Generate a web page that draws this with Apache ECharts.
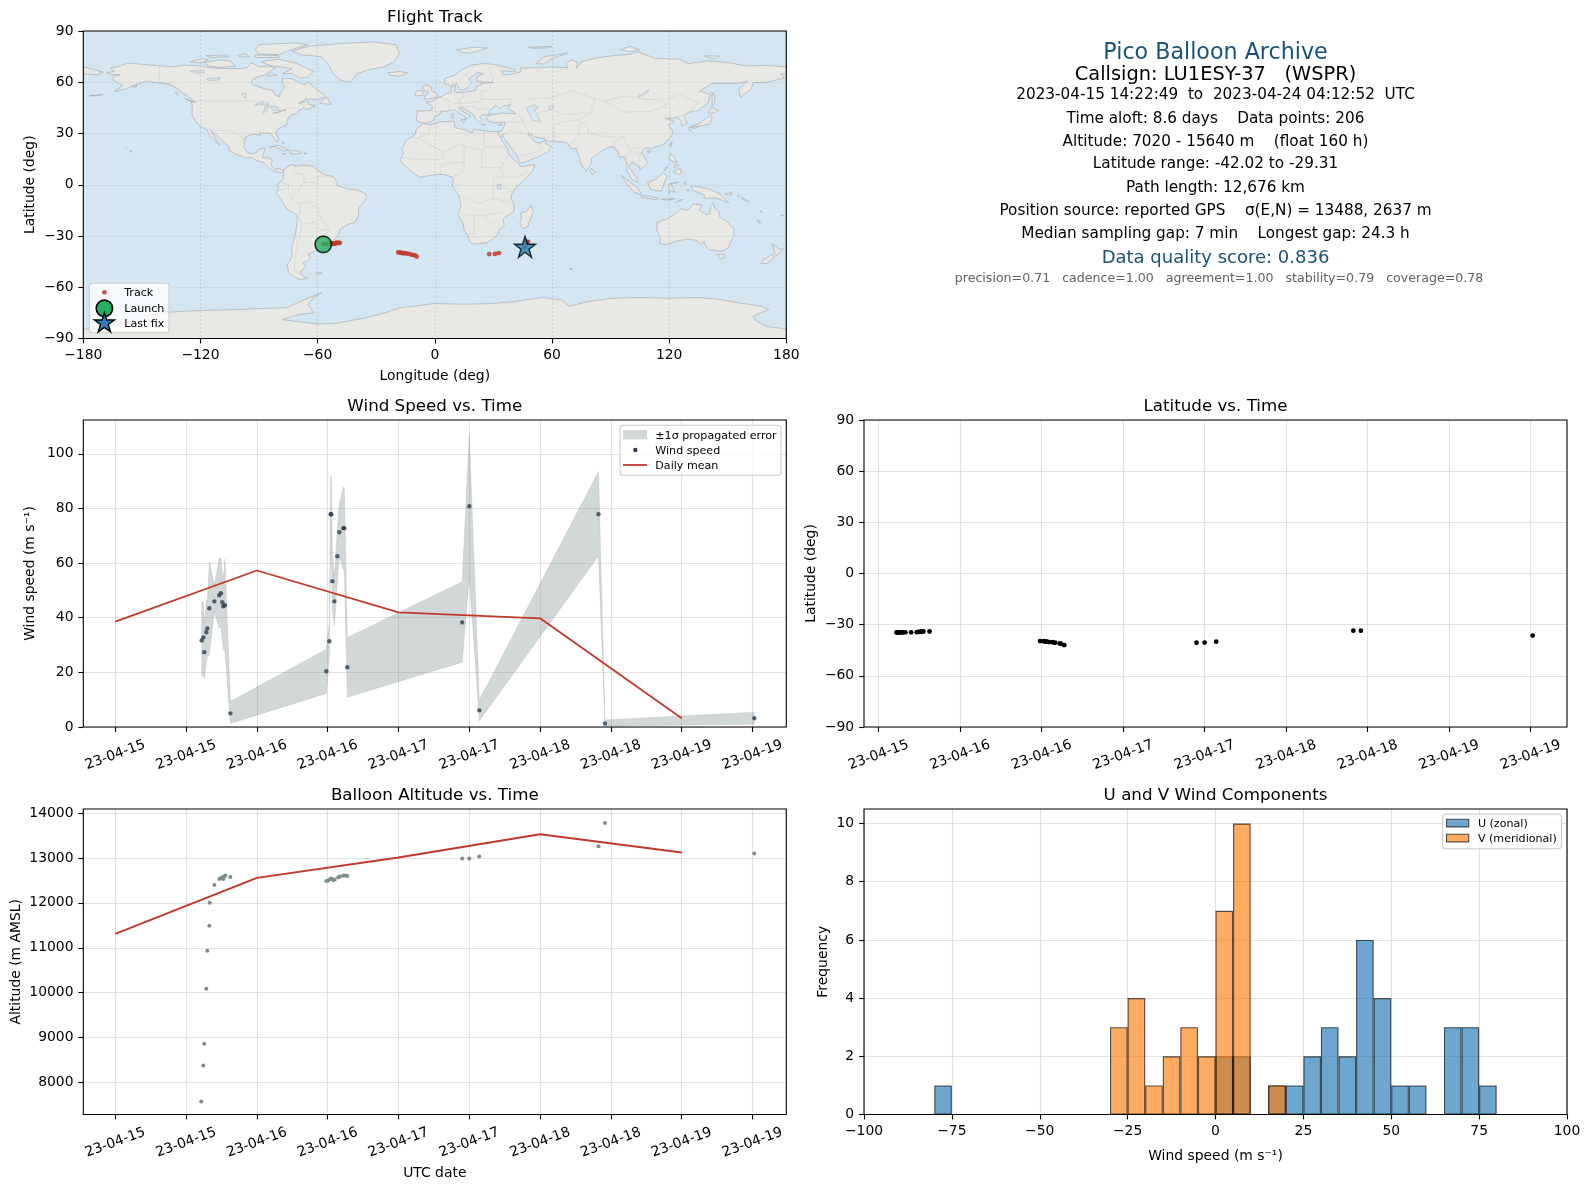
<!DOCTYPE html>
<html>
<head>
<meta charset="utf-8">
<title>Pico Balloon Archive</title>
<script src="https://cdn.jsdelivr.net/npm/echarts@6/dist/echarts.min.js"></script>
<style>html,body{margin:0;padding:0;background:#fff}#chart{width:1590px;height:1189px}</style>
</head>
<body>
<div id="chart"></div>
<script>
// ---------- data ----------
const fixHours = [14.64,14.92,15.09,15.43,15.60,15.94,16.79,17.63,17.91,18.14,18.31,18.59,19.5,
  35.77,36.28,36.50,36.62,36.79,37.13,37.64,37.97,38.65,38.82,39.33,
  58.8,60.0,61.7,81.9,83.0,108.3];
const windSpeed = [31.7,32.8,27.4,34.7,36.1,43.5,46.0,48.2,49.0,45.7,44.2,44.6,5.0,
  20.4,31.4,77.9,77.9,53.4,46.0,62.5,71.3,72.8,72.8,21.9,
  38.3,80.8,6.1,77.9,1.3,3.2];
const windUpper = [45.5,45.9,38.0,46.5,46.5,60.6,52.0,61.8,61.8,55.7,55.1,61.5,9.3,
  28.5,38.0,91.7,91.7,64.8,55.1,72.2,81.9,87.8,87.8,32.8,
  53.2,107.3,9.9,93.5,2.6,5.4];
const windLower = [18.4,19.7,17.5,23.3,25.8,26.4,42.2,36.1,36.8,31.9,28.2,27.6,1.3,
  12.3,25.2,64.2,64.2,42.9,37.0,53.8,62.4,57.8,57.8,10.9,
  23.7,55.1,2.3,62.6,0.4,1.0];
const latitude = [-34.6,-34.6,-34.6,-34.6,-34.5,-34.5,-34.5,-34.4,-34.2,-34.1,-34.1,-34.0,-34.0,
  -39.6,-39.7,-39.9,-40.0,-40.0,-40.2,-40.3,-40.6,-41.0,-41.2,-42.0,
  -40.6,-40.5,-40.0,-33.5,-33.5,-36.4];
const longitude = [-57.1,-56,-55,-54,-52.5,-52,-51.6,-51.2,-50.8,-50.4,-50,-49.4,-48.6,
  -18.7,-17.8,-17,-16.5,-16,-15,-14,-12.8,-11.6,-10.4,-9.3,
  27.9,30.8,32.8,47,47.7,46.2];
const altitudeHours = [14.58,14.92,15.09,15.43,15.60,15.94,16.0,16.79,17.63,17.91,18.14,18.31,18.5,18.65,19.5,
  35.77,36.1,36.45,36.6,36.95,37.2,37.8,38.1,38.65,39.0,39.33,
  58.8,60.0,61.7,81.9,83.0,108.3];
const altitude = [7578,8378,8867,10089,10933,11489,12000,12400,12533,12556,12570,12533,12593,12607,12578,
  12489,12496,12533,12541,12511,12518,12570,12585,12607,12607,12600,
  12990,12990,13034,13259,13776,13100];
const dailyHours = [0,24,48,72,96];
const dailyWind = [38.6,57.3,42.0,39.8,3.2];
const dailyAltitude = [11310,12556,13011,13529,13123];
const launchFix = [-57.1,-34.9];
const lastFix = [46.2,-36.3];
const windTickHours = [0,12,24,36,48,60,72,84,96,108];
const latTickHours = [12,24,36,48,60,72,84,96,108];
const binCenters = [-77.5,-27.5,-22.5,-17.5,-12.5,-7.5,-2.5,2.5,7.5,17.5,22.5,27.5,32.5,37.5,42.5,47.5,52.5,57.5,67.5,72.5,77.5];
const uCounts =    [1,0,0,0,0,0,0,2,2,1,1,2,3,2,6,4,1,1,3,3,1];
const vCounts =    [0,3,4,1,2,3,2,7,10,1,0,0,0,0,0,0,0,0,0,0,0];
const summaryLines = [
  'Pico Balloon Archive',
  'Callsign: LU1ESY-37   (WSPR)',
  '2023-04-15 14:22:49  to  2023-04-24 04:12:52  UTC',
  'Time aloft: 8.6 days    Data points: 206',
  'Altitude: 7020 - 15640 m    (float 160 h)',
  'Latitude range: -42.02 to -29.31',
  'Path length: 12,676 km',
  'Position source: reported GPS    \u03c3(E,N) = 13488, 2637 m',
  'Median sampling gap: 7 min    Longest gap: 24.3 h',
  'Data quality score: 0.836',
  'precision=0.71   cadence=1.00   agreement=1.00   stability=0.79   coverage=0.78'
];

// land outlines, lon/lat
const landPolygons = [
 [[-168,65.5],[-164,66.5],[-166,68.3],[-163,69],[-157,71.2],[-150,70.5],[-141,69.6],[-135,69],[-128,70],[-120,69.5],[-115,68.5],[-108,68],[-100,68],[-96,68.5],[-94,71.5],[-90,69],[-85,69.5],[-81.5,68.5],[-85,66],[-87,64.5],[-92,62.5],[-94.5,60],[-93,58.5],[-88,56.5],[-82.5,55],[-82,52.5],[-79.5,51.5],[-79,54.5],[-77,56.5],[-78,59],[-78,62.4],[-73,62],[-70,60.5],[-67,58.5],[-64.5,60.3],[-61.5,56.5],[-57,53],[-56,51.5],[-60,50],[-66,50.2],[-70,47.5],[-65,49],[-64.5,47],[-61,46],[-66,44],[-67,45],[-70,43.5],[-70,41.7],[-74,40.6],[-75.5,38],[-76,35],[-78.5,33.8],[-81,32],[-81.3,30],[-80,26.8],[-80.5,25.2],[-81.8,26],[-82.8,28],[-84,30],[-86,30.3],[-89.5,30.2],[-89.5,29],[-91.5,29.5],[-94,29.5],[-97,28],[-97.5,25],[-97.8,22],[-95.8,18.8],[-94,18.2],[-91.5,18.6],[-90.5,20.5],[-87,21.5],[-87.5,19],[-88.5,16],[-86,15.9],[-83.3,15],[-83.7,11],[-82,9],[-79.8,9.5],[-77.5,8.5],[-78,7.3],[-80,7.3],[-83,8.2],[-85.5,10],[-87.5,13],[-91,14],[-94,16],[-97,15.8],[-102,18],[-105.5,20],[-105.5,22.5],[-109,26],[-112.5,29.5],[-114.7,31.7],[-112,26.5],[-110,23],[-112,25],[-115,28.5],[-117,32.5],[-120.5,34.5],[-122.5,37.5],[-124.3,40.3],[-124.2,46],[-124.7,48.4],[-122.5,48.5],[-125,50.5],[-130,54.5],[-133.5,57.5],[-138,59.2],[-144,60],[-148,60.5],[-152,59],[-154,58],[-158,56.2],[-164,54.6],[-160,58],[-162,59.5],[-165,61.5],[-164.5,63.2],[-161,64.5],[-165,64.5]],
 [[-73,78.2],[-65,81],[-50,82.5],[-32,83.6],[-20,82],[-18,77],[-21,72],[-26,69],[-33,67.5],[-40,65],[-43,60],[-48,61],[-52,65],[-54,69.5],[-58,75],[-68,76]],
 [[-80,73.5],[-72,71.5],[-67,69],[-62,66.5],[-65,63],[-69,62.5],[-73,65],[-78,65],[-73,68],[-85,70],[-89,72]],
 [[-118,71.5],[-110,73],[-105,72.5],[-102,69.5],[-110,68.7],[-116,69.5]],
 [[-90,76.5],[-80,76.2],[-76,78],[-65,82],[-72,83],[-90,82],[-92,79]],
 [[-125,72],[-119,74],[-116,73],[-120,71.3]],
 [[-92,76],[-80,75.6],[-80,74.5],[-92,74.5]],
 [[-117,75.5],[-106,76],[-106,75],[-115,74.5]],
 [[-101,75.8],[-97,76.5],[-95,75],[-100,74.8]],
 [[-84,65.5],[-81,64],[-86,63.5]],
 [[-59,47.7],[-55.5,51.5],[-53,47]],
 [[-128,50.5],[-123.5,48.5],[-125,48.8]],
 [[-133,54],[-131.7,53.8],[-131.5,52.3]],
 [[-177,52],[-173,52.2],[-170,52.8],[-173,52.5]],
 [[-155,57.7],[-152.5,58.3],[-153,57]],
 [[-85,22],[-80,23],[-75,20.5],[-74.2,20.2],[-77.5,19.9],[-82,22.5]],
 [[-74.5,18.5],[-73,20],[-69,19.7],[-68.4,18.6],[-71.5,17.8]],
 [[-78.3,18.3],[-76.3,18.2],[-77,17.8]],
 [[-67,18.5],[-65.7,18.4],[-66.5,18]],
 [[-78,24.8],[-77.2,25.2],[-77.5,24]],
 [[-156,20],[-155,19.7],[-155.7,19]],
 [[-158.2,21.6],[-157.7,21.4],[-158,21.2]],
 [[-77.5,8.5],[-75,11],[-72,12],[-71.5,10.8],[-68,11.5],[-62,10.7],[-60,8.5],[-57,6],[-52,4.8],[-50,1],[-50,-0.5],[-44.5,-2.5],[-40,-3],[-35.5,-5.2],[-34.8,-7.5],[-37,-11],[-39,-14],[-39,-18],[-41,-22],[-44.5,-23.2],[-48.5,-26],[-49,-29],[-52,-32.5],[-54,-34.5],[-58,-34.5],[-57,-36.5],[-58,-38.2],[-62,-39],[-65,-41],[-63.5,-42.5],[-65.5,-45],[-67.5,-46],[-65.8,-47.5],[-69,-51],[-68.4,-52.5],[-65.2,-54.8],[-69,-55.5],[-72,-54],[-75,-51],[-75.5,-46.5],[-73,-42],[-73.5,-37],[-71.5,-30],[-70.3,-20],[-71,-17.5],[-76,-14],[-79,-8],[-81.3,-5],[-80,-2.5],[-80.5,0.5],[-78.5,2],[-77.3,4],[-77.5,7]],
 [[-61,-51.5],[-58,-51.5],[-58.5,-52.3],[-60.5,-52.2]],
 [[-6,35.8],[-2,35.2],[3,36.8],[10,37.3],[10.2,34],[11.2,33.2],[15,32.3],[19,30.3],[20,32.5],[25,31.7],[29,31],[32.3,31.2],[32.6,29.9],[33.6,27.5],[35.5,24],[37.2,21],[37.5,18.5],[39.5,15.5],[43,12],[44,10.5],[51.2,11.8],[50,8],[47,4],[42,-1],[39.5,-5],[39,-8],[40.5,-11],[40.5,-15.5],[35,-20],[35.5,-24],[33,-26],[32.5,-28.5],[30,-31.5],[27,-33.8],[20,-34.8],[18.3,-34],[17,-30],[15,-26.5],[14.5,-22.5],[11.8,-17.5],[13.5,-12],[12,-5.5],[9,-1],[9.5,3.5],[8.5,4.5],[5,6],[1,6],[-4,5.2],[-7.5,4.4],[-11,6.8],[-13.5,9.5],[-16.7,12.5],[-17.5,14.7],[-16,19],[-17,21],[-14.5,26],[-10,29.5],[-9.5,32.5]],
 [[49.3,-12],[50.5,-15.5],[47.5,-24.8],[45,-25.5],[43.5,-23],[44.3,-20],[44,-16.5],[47,-15.5]],
 [[-9,37],[-9.5,38.8],[-8.8,43.2],[-1.7,43.4],[-1.2,46],[-4.7,48.4],[-1.5,48.7],[1.5,50.9],[4,52],[6,53.5],[8.5,53.8],[8.2,57],[10.6,57.7],[10,54.5],[12,54],[14,54],[18.5,54.7],[21,55.2],[21.3,57.5],[24,58.5],[23.5,59.3],[28,59.6],[30,60],[25,60.2],[21.5,60.7],[21.3,63],[25,65],[22,65.7],[17.5,62],[18.8,60],[16.5,56.5],[14.3,55.5],[13,55.5],[11.2,59],[8,58],[5.2,59],[5,62],[10,64],[14,67.5],[19,70],[25,71],[31,70.3],[41,67.5],[41,66.3],[34,66.7],[35,64.3],[40,64.8],[44,66],[44,68.3],[54,68.5],[60,69],[68,68.5],[67,71.5],[70,73],[73,71.5],[72.5,68],[75,72],[80,73.5],[87,75],[100,76.5],[104,77.7],[113,74],[125,73.5],[130,71],[140,72.5],[150,71.5],[160,69.5],[170,69.9],[180,69],[180,65],[177,64.7],[179,62.5],[170,60],[163,59.8],[162,56],[156.5,51],[155.7,56],[160,60.5],[155,59.3],[142,59.3],[135.5,54.7],[141,53],[140,48],[135,43.5],[130,42.5],[127.5,39.8],[129.4,36],[126.5,34.5],[126,37.5],[124.5,39.8],[121,38.8],[118,39],[122.5,37],[119.5,35],[122,31],[121,28],[117,23.5],[111,21.4],[108,21.5],[105.7,19],[109,13],[107,10.5],[105,8.7],[105,10.5],[100.8,13.5],[99.5,10],[103.5,4],[104,1.4],[101,3],[98.5,8],[98.5,12],[97,16.5],[94.5,16],[94,19],[91.5,22.5],[89,21.8],[86.5,20.5],[80.3,15.5],[80,12],[77.5,8],[75,12],[73,19],[72.5,21.5],[70,21],[69,22.5],[67,25],[61.5,25.2],[57,25.7],[56.5,27],[51,28],[48.5,30],[47.7,29.5],[50,26.5],[51.5,25],[54,24.2],[56.3,26],[56.8,24],[59.8,22.5],[57.8,19],[52,16],[45,12.8],[43.3,13],[42.5,16.5],[39.2,21.5],[36,26.5],[35,28.2],[34.9,29.5],[34.2,27.8],[33,28.8],[32.6,30],[32.3,31.2],[34.3,31.3],[35.8,35],[36,36.7],[30.5,36.3],[27.5,37],[26.3,39.5],[29,41],[35,42],[41.5,41.5],[37.5,44.8],[39,47],[35,46],[33.5,44.5],[31,46.5],[28,43.5],[28,41.2],[24,40.8],[23,40],[24,38],[22.8,36.5],[21,38.5],[19.5,41.5],[15,44.5],[13,45.7],[12.3,44.5],[16,41.8],[18.4,40],[16.8,39],[15.7,38.2],[15.8,40],[12,42],[10,44],[6,43],[3.3,43.2],[3,41.8],[0,39.8],[-0.5,38],[-2,36.8],[-5.5,36]],
 [[-180,69],[-175,67.5],[-170,66],[-173,64.3],[-180,65]],
 [[-5.5,50],[1.5,51.2],[1.5,52.8],[-1.5,55],[-2,57.5],[-5,58.6],[-6.5,56.5],[-3,54],[-5,52]],
 [[-10,52],[-6,52.2],[-6,54.7],[-8.5,55.2],[-10,54]],
 [[-24,65.5],[-18,66.3],[-14,65.5],[-18,63.5],[-22.5,64]],
 [[11,79],[20,80.5],[27,80],[18,77],[14,77.5]],
 [[52,71],[56,75],[68,77],[60,74],[56,70.7]],
 [[48,80.5],[60,81],[58,80.2],[50,79.8]],
 [[95,79],[100,81],[105,79],[100,77.8]],
 [[138,75.5],[146,75.3],[143,73.5]],
 [[13,38],[15.6,38.2],[15,36.7]],
 [[8.3,41],[9.7,41],[9.5,39],[8.5,39]],
 [[23.6,35.5],[26.2,35.2],[24.5,34.9]],
 [[32.5,35],[34.5,35.6],[33.8,34.7]],
 [[80,9.7],[82,7.5],[80.5,6],[79.8,8]],
 [[130.9,34],[135,35.6],[137,37.3],[140,39.7],[141.3,41],[142,39.5],[140.8,35.7],[137,34.6],[133,33.8]],
 [[130,33.5],[131.7,33.5],[131,31.2],[130,32]],
 [[132.5,33.9],[134.5,34.2],[134,33.3],[132.7,32.9]],
 [[140,42],[141.8,45.4],[145.3,43.5],[143,42]],
 [[142,46],[142,54],[143.5,52],[143,47]],
 [[120.2,23],[121.5,25.2],[121,22]],
 [[108.7,19.3],[110.5,20],[110,18.4]],
 [[120,16],[121,18.5],[122.2,17],[124,13],[120.8,14]],
 [[122,7.5],[125.5,9.7],[126.5,7],[125,6]],
 [[122.5,11.8],[125,11.5],[123,9.5]],
 [[117.2,8.4],[119.5,11.2],[118,8.8]],
 [[95.3,5.6],[104,-2],[106,-5.8],[102,-4.5],[98,1]],
 [[105.5,-6.5],[110,-6.7],[114.5,-7.7],[114,-8.7],[106,-7.5]],
 [[109,1.5],[113,3],[117,7],[119,5],[117.5,1],[116,-3.8],[111,-3],[109.5,-0.5]],
 [[119.8,-5.5],[120,0.5],[125,1.5],[121,0.5],[122.8,-4.5],[120.8,-3]],
 [[131,-0.8],[134.5,-1],[138,-2],[141,-2.7],[146,-5.5],[150.5,-10.5],[144,-7.7],[138,-8],[138,-6],[132.5,-3.5]],
 [[124,-10],[127,-8.4],[123.5,-10.2]],
 [[116,-8.4],[123,-8.2],[119,-9]],
 [[148.5,-5.6],[152,-4.2],[152,-5.8]],
 [[155,-6],[156,-6.8],[155.5,-7]],
 [[157,-7.5],[160,-9],[161,-10.2],[158,-8.8]],
 [[166.7,-15],[167.8,-16.2],[167,-16]],
 [[127.5,1],[128.5,2],[128.5,0]],
 [[129,-3],[130.8,-3.2],[129.5,-3.6]],
 [[114,-22],[113.5,-26],[115.5,-31.5],[115,-34.3],[118,-35],[124,-33],[129,-31.7],[134,-32.5],[136,-35],[138,-33],[138.5,-35.5],[140.5,-38],[144,-38.5],[146.3,-39],[150,-37.4],[151.5,-33.5],[153.2,-30],[153.2,-26],[149,-21],[146,-19],[145.3,-15],[143.5,-14],[142.5,-10.8],[141,-13],[141,-17],[139,-17.5],[135.5,-15],[136.8,-12],[132.5,-11.3],[129.5,-15],[126,-14],[122,-18],[118,-20.3]],
 [[144.7,-40.8],[148.3,-40.9],[148,-43],[146,-43.5]],
 [[172.7,-34.5],[176,-37.5],[178.5,-37.7],[175,-41.5],[174,-39.5]],
 [[172.5,-40.7],[174,-42],[170.5,-46],[167,-46.2],[168,-44.2]],
 [[165,-20.5],[167,-22.2],[165.5,-21.8]],
 [[177.3,-17.6],[178.6,-18],[177.5,-18.3]],
 [[69,-49],[70.5,-49.2],[69.5,-49.7]],
 [[-180,-84.5],[-170,-84],[-158,-81],[-150,-77],[-135,-74.5],[-118,-73.5],[-100,-73],[-90,-72.5],[-76,-72],[-70,-69],[-62,-65],[-58,-63.3],[-62,-66],[-65,-70],[-62,-75],[-70,-76],[-78,-79],[-60,-81.5],[-50,-81],[-36,-78],[-27,-75.5],[-18,-72],[-10,-71],[0,-69.5],[15,-70],[30,-69.5],[40,-68.5],[55,-66],[65,-67.5],[69,-71],[78,-68.5],[90,-66.5],[105,-66],[120,-66.5],[135,-66],[145,-67],[155,-69],[167,-71],[171,-73],[163,-77],[165,-80],[170,-83],[180,-84.5],[180,-90],[-180,-90]]
];
const waterPolygons = [
 [[47,45],[51,47],[53,45],[51,44],[53,40],[54,37],[50,37.5],[49,40],[47.5,43]],
 [[-92,46.8],[-88,48.6],[-85,47.8],[-85,46.6],[-88,46.7]],
 [[-87.8,42],[-87,45.5],[-85,46],[-86.3,43]],
 [[-84.5,46],[-80.5,45.5],[-80,44.5],[-82.5,43.2],[-83.5,44.5]],
 [[-83,41.7],[-79,42.8],[-78.9,42.8],[-82,42.3]],
 [[-79.7,43.3],[-76.3,44],[-76.3,43.4],[-78.5,43.3]],
 [[104,51.6],[109.5,55.5],[109,54],[106,52]],
 [[58.5,46],[61,46.5],[60.5,44.5],[58.5,44]],
 [[32,0],[34,0.3],[34,-2.5],[32,-2.3]],
 [[-125,66.5],[-118,67],[-118,65.5],[-122,65.2]],
 [[-117,62],[-110,62.8],[-110,61.5],[-115,60.8]],
 [[-99,53],[-97,53.8],[-96.5,50.5],[-97.5,51]]
];
const borderLines = [
 [[-123,49],[-95,49],[-89,48],[-83,45.5],[-79,43],[-75,45],[-71,45],[-67.5,47.3],[-67,45]],
 [[-141,69.6],[-141,60.3],[-135,59],[-130,55]],
 [[-117,32.5],[-108,31.5],[-106,31.7],[-101,29.7],[-97.5,26]],
 [[-51.5,4.2],[-60,5],[-60,1],[-67,1.5],[-70,-4],[-74,-7.5],[-70,-11],[-65,-10],[-60,-14],[-58,-20],[-55,-24],[-54,-27],[-57.5,-30],[-53.5,-33.8]],
 [[-70,-18],[-68,-24],[-70,-33],[-71.5,-42],[-72,-50],[-68.5,-52.5]],
 [[-69,-11],[-69,-17],[-70,-18]],
 [[-72,12],[-72,7],[-67,6],[-67,1.5]],
 [[-78.5,1.5],[-75,0],[-75,-2],[-80,-3.5]],
 [[-68,-23],[-62,-22],[-58,-27],[-55,-26]],
 [[-8.7,27.5],[-3,30],[-2,35]],
 [[-13,27.7],[-8.7,27.5],[4,19],[12,23.5],[25,20],[25,31.5]],
 [[25,22],[36.5,22]],
 [[4,19],[4,15],[-5,15],[-12,15],[-16.5,16]],
 [[15,23],[15,13],[10,13],[3,11.5],[3,6.5]],
 [[15,13],[15,8],[9,4.5]],
 [[24,20],[24,10],[34,10],[36,14.5],[38.5,18]],
 [[34,10],[35,5],[41,4],[48,8]],
 [[35,5],[30,3.5],[30,-8],[22,-11],[12,-6]],
 [[30,-8],[40,-10.7]],
 [[35,-1],[40,-4.5]],
 [[12,-17.3],[25,-18],[33,-16],[35,-17]],
 [[20,-18],[20,-28.5],[16.5,-28.5]],
 [[25,-18],[32,-25]],
 [[-1.8,43.4],[3,42.5]],
 [[2.5,51],[8,49],[7.5,47.5],[7,44]],
 [[14,54],[14.8,51],[12,50],[13,47.5],[9.5,47.5]],
 [[23,54],[24,50],[22,48.5],[18,48],[13,47.5]],
 [[13.5,45.5],[19,46],[22.5,44],[28,45.3]],
 [[28,69],[30,62],[28,56],[23,54]],
 [[24,50],[40,50],[38,47]],
 [[12,60],[20,69]],
 [[47,50],[60,51],[70,55],[82,50.5],[87,49]],
 [[87,49],[98,52],[107,50],[116,50],[119,47],[111,43],[97,42.5],[87,49]],
 [[119,50],[125,53],[135,48],[131,43],[130,42.5]],
 [[80,42],[74,38],[78,34],[79,30],[88,28],[97,28],[98,24],[102,21.5],[108,21.5]],
 [[97,28],[92,25],[92,21]],
 [[74,36],[74,30],[71,25],[68.5,23.5]],
 [[61,25],[61,30],[61,35],[66,37],[74,38]],
 [[48.5,30],[46,35],[44.5,39]],
 [[36,36.5],[44.5,37],[44.5,39],[41.5,41.5]],
 [[35,29.5],[39,32],[47,29.5]],
 [[52,24],[55,22],[52,19],[43,16.5]],
 [[98,24],[100,20],[105,18],[105,14],[103,11]],
 [[100,20],[98,16],[99,11]],
 [[53,42],[60,44],[66,41],[74,42],[80,42],[82,50.5]],
 [[125,40],[130,42.5]]
];

// ---------- layout and styles ----------
const FONT = '"DejaVu Sans", sans-serif';
const P = {
  map:  {left:83.3, top:31,  width:703, height:307.5},
  wind: {left:83.3, top:420, width:703, height:307},
  lat:  {left:864,  top:420, width:703, height:307},
  alt:  {left:83.3, top:809, width:703, height:305.5},
  hist: {left:864,  top:809, width:703, height:305.5}
};
const panels = ['map','wind','lat','alt','hist'];
const gridLine = {show:true, lineStyle:{color:'rgba(176,176,176,0.36)', width:1.1}};
const minus = v => String(v).replace('-', '\u2212');
const dayLabel = h => '23-04-' + (15 + Math.floor(h / 24));
const STAR = [[50,0],[61.2,34.5],[97.6,34.5],[68.2,55.9],[79.4,90.5],[50,69.1],[20.6,90.5],[31.8,55.9],[2.4,34.5],[38.8,34.5]];
const STAR_PATH = 'path://M' + STAR.map(p => p.join(' ')).join('L') + 'Z';

function valueAxis(gridIndex, min, max, isY, extra) {
  return Object.assign({
    type:'value', gridIndex, min, max, scale:true,
    axisLine:{show:false, onZero:false},
    axisTick:{show:true, length:4.9, lineStyle:{color:'#000', width:1.1}},
    axisLabel:{show:true, color:'#000', fontSize:13.9, fontFamily:FONT, margin:9.8, hideOverlap:false, showMinLabel:true, showMaxLabel:true, formatter:minus, padding:isY?[2,0,0,0]:0},
    splitLine:gridLine,
    nameLocation:'middle',
    nameTextStyle:{color:'#000', fontSize:13.9, fontFamily:FONT, verticalAlign:'middle'}
  }, extra || {});
}
function withTicks(ax, values) {
  ax.axisTick.customValues = values;
  ax.axisLabel.customValues = values;
  return ax;
}
function timeAxis(gridIndex, min, max, ticks, name) {
  const ax = valueAxis(gridIndex, min, max, false, name ? {name, nameGap:58.5} : {});
  withTicks(ax, ticks);
  ax.axisLabel.formatter = dayLabel;
  ax.axisLabel.rotate = 20;
  ax.axisLabel.align = 'center';
  ax.axisLabel.verticalAlign = 'middle';
  ax.axisLabel.margin = 28;
  return ax;
}
const mapGrid = {show:true, lineStyle:{color:'rgba(130,130,130,0.28)', width:0.8, type:[2,2]}};

const xAxes = [
  valueAxis(0,-180,180,false,{interval:60, name:'Longitude (deg)', nameGap:38, splitLine:mapGrid, z:4}),
  timeAxis(1,-5.42,113.73,windTickHours),
  timeAxis(2,9.85,113.35,latTickHours),
  timeAxis(3,-5.42,113.73,windTickHours,'UTC date'),
  valueAxis(4,-100,100,false,{interval:25, name:'Wind speed (m s\u207b\u00b9)', nameGap:42})
];
const yAxes = [
  valueAxis(0,-90,90,true,{interval:30, name:'Latitude (deg)', nameGap:53, splitLine:mapGrid, z:4}),
  withTicks(valueAxis(1,0,112.4,true,{name:'Wind speed (m s\u207b\u00b9)', nameGap:53}),[0,20,40,60,80,100]),
  valueAxis(2,-90,90,true,{interval:30, name:'Latitude (deg)', nameGap:53}),
  withTicks(valueAxis(3,7290,14089,true,{name:'Altitude (m AMSL)', nameGap:67}),[8000,9000,10000,11000,12000,13000,14000]),
  withTicks(valueAxis(4,0,10.5,true,{name:'Frequency', nameGap:41}),[0,2,4,6,8,10])
];

const titles = [['Flight Track','map'],['Wind Speed vs. Time','wind'],['Latitude vs. Time','lat'],['Balloon Altitude vs. Time','alt'],['U and V Wind Components','hist']]
  .map(([text,k]) => ({text, padding:0, left:P[k].left + P[k].width/2, top:P[k].top - 22, textAlign:'center', textStyle:{color:'#000', fontSize:16.7, fontWeight:'normal', fontFamily:FONT}}));

function polySeries(name, list, fill, stroke, z) {
  return {
    type:'custom', name, coordinateSystem:'cartesian2d', xAxisIndex:0, yAxisIndex:0, silent:true, z, clip:true,
    data:list.map((p,i)=>[i,0]),
    renderItem:(params,api)=>({type:'polygon', shape:{points:list[params.dataIndex].map(c=>api.coord(c))}, style:{fill, stroke, lineWidth:0.8}})
  };
}

const series = [
  polySeries('Land', landPolygons, '#e8e8e4', 'rgba(165,170,174,0.8)', 2),
  polySeries('Water', waterPolygons, '#d4e6f1', 'rgba(165,170,174,0.6)', 2.1),
  {
    type:'custom', name:'Borders', coordinateSystem:'cartesian2d', xAxisIndex:0, yAxisIndex:0, silent:true, z:2.2,
    data:borderLines.map((p,i)=>[i,0]),
    renderItem:(params,api)=>({type:'polyline', shape:{points:borderLines[params.dataIndex].map(c=>api.coord(c))}, style:{fill:null, stroke:'rgba(190,194,192,0.5)', lineWidth:0.7}})
  },
  {type:'scatter', name:'Track', xAxisIndex:0, yAxisIndex:0, symbolSize:4.8, z:3, itemStyle:{color:'#c0392b', opacity:0.85},
   data:longitude.map((v,i)=>[v,latitude[i]])},
  {type:'scatter', name:'Launch', xAxisIndex:0, yAxisIndex:0, symbol:'circle', symbolSize:16.5, z:6, itemStyle:{color:'#27ae60', borderColor:'#000', borderWidth:1.6}, data:[launchFix]},
  {type:'scatter', name:'Last fix', xAxisIndex:0, yAxisIndex:0, symbol:STAR_PATH, symbolSize:21, z:6, itemStyle:{color:'#2980b9', borderColor:'#000', borderWidth:1.4}, data:[lastFix]},

  {
    type:'custom', name:'\u00b11\u03c3 propagated error', coordinateSystem:'cartesian2d', xAxisIndex:1, yAxisIndex:1, silent:true, z:2,
    data:[[fixHours[0],windUpper[0]]],
    renderItem:(params,api)=>{
      const top = fixHours.map((h,i)=>api.coord([h,windUpper[i]]));
      const bottom = fixHours.map((h,i)=>api.coord([h,windLower[i]])).reverse();
      return {type:'polygon', shape:{points:top.concat(bottom)}, style:{fill:'rgba(127,140,141,0.35)', stroke:'rgba(127,140,141,0.18)', lineWidth:1}};
    }
  },
  {type:'scatter', name:'Wind speed', xAxisIndex:1, yAxisIndex:1, symbolSize:4.4, z:3, itemStyle:{color:'#2c3e50'}, data:fixHours.map((h,i)=>[h,windSpeed[i]])},
  {type:'line', name:'Daily mean', xAxisIndex:1, yAxisIndex:1, showSymbol:false, symbol:'none', z:4, lineStyle:{color:'#c0392b', width:1.8}, data:dailyHours.map((h,i)=>[h,dailyWind[i]])},

  {type:'scatter', name:'Latitude', xAxisIndex:2, yAxisIndex:2, symbolSize:4.8, z:3, itemStyle:{color:'#000', opacity:1}, data:fixHours.map((h,i)=>[h,latitude[i]])},

  {type:'scatter', name:'Altitude', xAxisIndex:3, yAxisIndex:3, symbolSize:4, z:3, itemStyle:{color:'#7f8c8d', opacity:1}, data:altitudeHours.map((h,i)=>[h,altitude[i]])},
  {type:'line', name:'Daily mean altitude', xAxisIndex:3, yAxisIndex:3, showSymbol:false, symbol:'none', z:4, lineStyle:{color:'#c0392b', width:2}, data:dailyHours.map((h,i)=>[h,dailyAltitude[i]])},

  {type:'bar', name:'U (zonal)', xAxisIndex:4, yAxisIndex:4, barWidth:17.575, barGap:'-100%', z:3,
   itemStyle:{color:'#1f77b4', borderColor:'#000', borderWidth:1.1, opacity:0.65},
   data:binCenters.map((c,i)=>[c,uCounts[i]]).filter(d=>d[1]>0)},
  {type:'bar', name:'V (meridional)', xAxisIndex:4, yAxisIndex:4, barWidth:17.575, barGap:'-100%', z:3,
   itemStyle:{color:'#ff7f0e', borderColor:'#000', borderWidth:1.1, opacity:0.65},
   data:binCenters.map((c,i)=>[c,vCounts[i]]).filter(d=>d[1]>0)}
];

// panel frames, summary text and legends
const graphics = [];
panels.forEach(k => graphics.push({type:'rect', z:50, silent:true, shape:{x:P[k].left,y:P[k].top,width:P[k].width,height:P[k].height}, style:{fill:null, stroke:'#000', lineWidth:1.1}}));

const summaryStyle = [
  [53,22.2,'#1a5276',1215.5],[75,19.4,'#000',1215.5],[95.4,15.25,'#000',1215.5],[118.7,15.25,'#000',1215.5],[142.1,15.25,'#000',1215.5],[164.4,15.25,'#000',1215.5],
  [187.7,15.25,'#000',1215.5],[211.1,15.25,'#000',1215.5],[234.1,15.25,'#000',1215.5],[258.8,18,'#1a5276',1215.5],[278.8,12.6,'#606060',1219]
];
summaryLines.forEach((t,i) => graphics.push({type:'text', z:60, silent:true, style:{text:t, x:summaryStyle[i][3], y:summaryStyle[i][0], textAlign:'center', textVerticalAlign:'middle', font:summaryStyle[i][1]+'px '+FONT, fill:summaryStyle[i][2]}}));

function legendBox(x,y,w,h){ graphics.push({type:'rect', z:60, silent:true, shape:{x,y,width:w,height:h,r:3}, style:{fill:'rgba(255,255,255,0.8)', stroke:'#cccccc', lineWidth:1.1}}); }
function legendText(t,x,y){ graphics.push({type:'text', z:63, silent:true, style:{text:t, x, y, textAlign:'left', textVerticalAlign:'middle', font:'11.1px '+FONT, fill:'#000'}}); }

legendBox(89.3,283.3,79.7,49.5);
graphics.push({type:'circle', z:62, silent:true, shape:{cx:104.4,cy:292.3,r:2.4}, style:{fill:'#c0392b', opacity:0.85}});
graphics.push({type:'circle', z:62, silent:true, shape:{cx:104.4,cy:308.3,r:8.2}, style:{fill:'#27ae60', stroke:'#000', lineWidth:1.6}});
graphics.push({type:'polygon', z:62, silent:true, shape:{points:STAR.map(p=>[104.4+(p[0]-50)*0.21, 323.3+(p[1]-50)*0.21])}, style:{fill:'#2980b9', stroke:'#000', lineWidth:1.4}});
legendText('Track',124.2,293); legendText('Launch',124.2,309); legendText('Last fix',124.2,324);

legendBox(620,425.3,161,50);
graphics.push({type:'rect', z:62, silent:true, shape:{x:623,y:430,width:24,height:9.3}, style:{fill:'rgba(127,140,141,0.35)'}});
graphics.push({type:'circle', z:62, silent:true, shape:{cx:635.3,cy:450,r:2.2}, style:{fill:'#2c3e50'}});
graphics.push({type:'line', z:62, silent:true, shape:{x1:623,y1:465,x2:647,y2:465}, style:{stroke:'#c0392b', lineWidth:1.8}});
legendText('\u00b11\u03c3 propagated error',655.3,435.7); legendText('Wind speed',655.3,450.7); legendText('Daily mean',655.3,466.3);

legendBox(1442.7,814.3,118.7,34.4);
graphics.push({type:'rect', z:62, silent:true, shape:{x:1446.5,y:819.3,width:22.2,height:7.6}, style:{fill:'#1f77b4', stroke:'#000', lineWidth:1.1, opacity:0.65}});
graphics.push({type:'rect', z:62, silent:true, shape:{x:1446.5,y:834.3,width:22.2,height:7.6}, style:{fill:'#ff7f0e', stroke:'#000', lineWidth:1.1, opacity:0.65}});
legendText('U (zonal)',1477.9,824.2); legendText('V (meridional)',1477.9,839.2);

const chart = echarts.init(document.getElementById('chart'), null, {renderer:'canvas', width:1590, height:1189});
chart.setOption({
  animation:false,
  backgroundColor:'#ffffff',
  textStyle:{fontFamily:FONT},
  title:titles,
  grid:[
    Object.assign({show:true, backgroundColor:'#d4e6f1', borderWidth:0}, P.map),
    Object.assign({show:false}, P.wind),
    Object.assign({show:false}, P.lat),
    Object.assign({show:false}, P.alt),
    Object.assign({show:false}, P.hist)
  ],
  xAxis:xAxes,
  yAxis:yAxes,
  series,
  graphic:{elements:graphics}
});
</script>
</body>
</html>
